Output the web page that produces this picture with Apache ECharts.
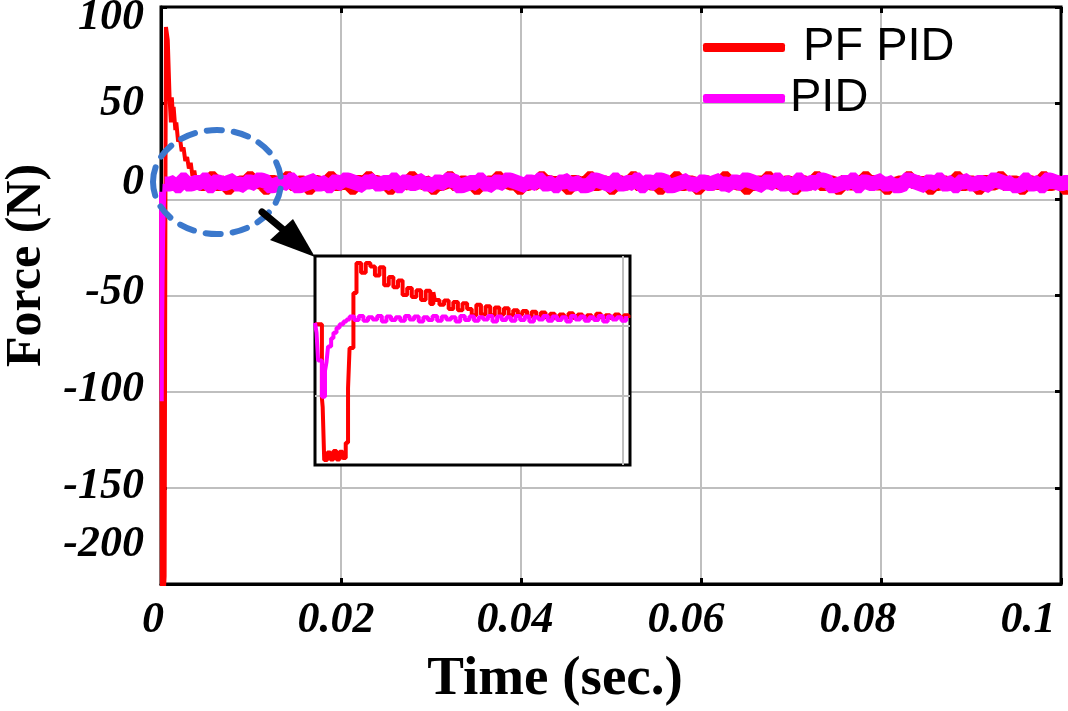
<!DOCTYPE html>
<html><head><meta charset="utf-8">
<script src="https://cdn.jsdelivr.net/npm/echarts@6/dist/echarts.min.js"></script>
<style>html,body{margin:0;padding:0;background:#fff}#c{width:1068px;height:711px}</style>
</head><body><div id="c"></div>
<script>
// ---------------- data ----------------
const seriesNames = ['PF PID', 'PID'];
const xTickLabels = ['0', '0.02', '0.04', '0.06', '0.08', '0.1'];
const yTickLabels = ['-200', '-150', '-100', '-50', '0', '50', '100'];

// main plot, PF PID transient (time s, force N)
const pfpidTransientTime = [0, 0.00006, 0.0001, 0.0002, 0.0003, 0.0004, 0.00045, 0.0005, 0.00055, 0.0007, 0.00075, 0.0009, 0.00095, 0.0011, 0.0012, 0.0013, 0.0014, 0.0016, 0.0017, 0.0019, 0.0021, 0.0023, 0.0025, 0.0027, 0.0029, 0.0031, 0.0033, 0.0035, 0.0037, 0.0039, 0.0042];
const pfpidTransientForce = [0, -110, -205, -196, -205, -196, -90, 20, 89.6, 89.6, 82.8, 82.8, 53, 40, 53, 45, 48, 36, 40, 30, 32, 25, 27, 20, 22, 16, 19, 12, 15, 9, 8];
// main plot, PF PID steady part (sampled every steadyStep from pfpidSteadyStart)
const pfpidSteadyStart = 0.0042;
const steadyStep = 0.0006;
const pfpidSteadyForce = [
  8,9,11,8,9,6,8,9,8,11, 9,8,6,9,8,9,11,8,9,8, 6,9,8,9,11,8,9,8,6,9, 8,11,9,8,9,6,8,9,8,11,
  9,8,9,6,8,9,11,8,9,8, 9,6,8,9,8,11,9,8,9,6, 8,9,8,11,9,8,9,8,6,9, 8,9,11,8,9,8,6,9,8,9,
  11,8,9,8,9,6,8,9,11,8, 9,8,6,9,8,9,8,11,9,8, 9,6,8,9,8,11,9,8,9,8, 6,9,8,9,11,8,9,8,6,9,
  8,9,8,11,9,8,9,6,8,9, 8,11,9,8,9,6,8,9,8,9, 11,8,9,8,6,9,8,9,11,8, 9,8,6,9,8,9,11,8,9,8,
  6,9,8,9,11,8,9,8,6,9];

// main plot, PID transient
const pidTransientTime = [0, 0.00004, 0.00008, 0.00012, 0.00018, 0.00024, 0.0003, 0.00036, 0.0004];
const pidTransientForce = [4, -40, -105, -70, -40, -18, -6, 4, 8];
const pidSteadyStart = 0.0004;
const pidSteadyForce = [
  8,9,7,10,8,9,8,10,7,9, 8,9,10,8,7,9,8,10,9,7, 8,9,8,10,7,8,9,10,8,9, 7,9,8,10,9,8,7,9,10,8,
  9,8,10,7,9,8,9,10,8,7, 9,8,10,9,7,8,9,8,10,8, 7,9,8,10,9,8,7,9,8,10, 8,9,7,9,10,8,9,7,8,10,
  9,8,7,10,8,9,8,10,7,9, 8,10,9,7,8,9,10,8,7,9, 8,9,10,8,7,9,8,10,9,8, 7,9,8,10,8,9,7,10,8,9,
  8,10,9,7,8,9,8,10,7,9, 8,9,10,8,9,7,8,10,9,8, 7,9,8,10,8,9,7,9,10,8, 9,8,7,10,9,8,9,7,8,10,
  8,9,7,10,9,8,9,8,10,7];

// inset (zoom of the first 0.0041 s)
const insetPfpidTime = [0, 0.00009, 0.0001, 0.00012, 0.00016, 0.0002, 0.00024, 0.00028, 0.00032, 0.00036, 0.0004, 0.00043, 0.00045, 0.0005, 0.00054,
  0.0006, 0.00066, 0.00072, 0.00078, 0.00084, 0.0009, 0.00096, 0.00102, 0.00108, 0.00114, 0.0012, 0.00126, 0.00132, 0.00138, 0.00144,
  0.0015, 0.00154, 0.00156, 0.00162, 0.00168, 0.00174, 0.0018, 0.00186, 0.00192, 0.00198, 0.00204, 0.0021, 0.00216, 0.00222, 0.00228,
  0.00234, 0.0024, 0.00246, 0.00252, 0.00258, 0.00264, 0.0027, 0.00276, 0.00282, 0.00288, 0.00294, 0.003, 0.00306, 0.00312, 0.00318,
  0.00324, 0.0033, 0.00336, 0.00342, 0.00348, 0.00354, 0.0036, 0.00366, 0.00372, 0.00378, 0.00384, 0.0039, 0.00396, 0.00402, 0.00408];
const insetPfpidForce = [2, -104, -117, -193, -182, -192, -180, -192, -181, -190, -168, -90, -32, 47, 90,
  76, 90, 85, 72, 84, 58, 70, 55, 65, 44, 54, 41, 51, 37, 50,
  31, 48, 37, 30, 36, 24, 34, 22, 32, 24, 15, 30, 16, 28, 15,
  26, 16, 25, 15, 22, 16, 21, 13, 20, 12, 19, 12, 17, 11, 16,
  12, 18, 11, 16, 12, 15, 11, 17, 12, 15, 11, 16, 12, 15, 11];
const insetPidTime = [0, 0.00002, 0.00004, 0.00009, 0.00013, 0.00015, 0.00017, 0.00021, 0.00024, 0.00028, 0.00032, 0.00037, 0.00041];
const insetPidForce = [4, -10, -50, -102, -65, -52, -30, -18, -10, -3, 2, 6, 9];
const insetPidNoiseStart = 0.00045;
const insetNoiseStep = 0.00006;
const insetPidNoise = [13,8,14,7,12,9,14,6,13,8, 12,7,14,9,13,6,12,8,14,7, 13,9,12,6,14,8,13,7,12,9,
  14,6,13,8,12,7,14,8,13,6, 12,9,14,7,13,8,12,6,14,9, 13,7,12,8,14,6,13,9,12,7, 14];

// ---------------- build ----------------
const pairs = (t, v) => t.map((x, i) => [x, v[i]]);
const sampled = (start, step, v) => v.map((y, i) => [start + i * step, y]);

const RED = '#ff0000', MAG = '#ff00ff';
const serif = 'Liberation Serif, Times New Roman, serif';
const xShift = [16, 10, 12, 30, 46, 66];          // label nudges
const yShift = [[0,0,78,0],[0,0,2,0],[0,0,4,0],[0,0,6,0],[0,0,34,0],[0,0,0,0],[22,0,0,0]];
const xRich = {}, yRich = {};
xShift.forEach((p, i) => { xRich['x' + i] = {fontFamily: serif, fontStyle: 'italic', fontWeight: 'bold', fontSize: 44, color: '#000', padding: [0, p, 0, 0]}; });
yShift.forEach((p, i) => { yRich['y' + i] = {fontFamily: serif, fontStyle: 'italic', fontWeight: 'bold', fontSize: 44, color: '#000', padding: p}; });

const black3 = {color: '#000', width: 3};
const tickIn = {show: true, inside: true, length: 6, lineStyle: black3};
const gridLine = {show: true, showMinLine: false, showMaxLine: false, lineStyle: {color: '#bfbfbf', width: 2}};

const chart = echarts.init(document.getElementById('c'), null, {renderer: 'canvas'});
chart.setOption({
  animation: false,
  backgroundColor: '#fff',
  grid: [
    {left: 161, right: 7, top: 7, bottom: 127, outerBoundsMode: 'none', containLabel: false,
     show: true, borderColor: '#000', borderWidth: 3, backgroundColor: 'transparent'},
    {left: 315, top: 256, width: 315, height: 209, outerBoundsMode: 'none', containLabel: false,
     show: true, borderColor: '#000', borderWidth: 3, backgroundColor: '#fff', z: 4}
  ],
  legend: {
    data: seriesNames, orient: 'vertical', left: 698, top: 19, itemWidth: 82, itemHeight: 9, itemGap: 4,
    icon: 'roundRect',
    formatter: n => n === 'PF PID' ? ' ' + n : n,
    textStyle: {fontFamily: 'Liberation Sans, Arial, sans-serif', fontSize: 47, color: '#000'}
  },
  xAxis: [
    {type: 'value', gridIndex: 0, min: 0, max: 0.1, interval: 0.02,
     axisLine: {show: true, onZero: false, lineStyle: black3}, axisTick: tickIn, splitLine: gridLine,
     axisLabel: {margin: 15, formatter: (v, i) => '{x' + i + '|' + (xTickLabels[i] ?? v) + '}', rich: xRich},
     name: 'Time (sec.)', nameLocation: 'middle', nameGap: 68,
     nameTextStyle: {fontFamily: serif, fontWeight: 'bold', fontSize: 55, color: '#000', padding: [0, 112, 0, 0]}},
    {type: 'value', gridIndex: 0, position: 'top', min: 0, max: 0.1, interval: 0.02,
     axisLine: {show: false, onZero: false}, axisTick: tickIn, splitLine: {show: false}, axisLabel: {show: false}},
    {type: 'value', gridIndex: 1, min: 0, max: 0.0041, interval: 0.004, z: 5,
     axisLine: {show: false, onZero: false}, axisTick: {show: false}, axisLabel: {show: false}, splitLine: gridLine}
  ],
  yAxis: [
    {type: 'value', gridIndex: 0, min: -200, max: 100, interval: 50,
     axisLine: {show: true, onZero: false, lineStyle: black3}, axisTick: tickIn, splitLine: gridLine,
     axisLabel: {margin: 17, formatter: (v, i) => '{y' + i + '|' + (yTickLabels[i] ?? v) + '}', rich: yRich},
     name: 'Force (N)', nameLocation: 'middle', nameGap: 92,
     nameTextStyle: {fontFamily: serif, fontWeight: 'bold', fontSize: 50, color: '#000', padding: [0, 0, 0, 60]}},
    {type: 'value', gridIndex: 0, position: 'right', min: -200, max: 100, interval: 50,
     axisLine: {show: false, onZero: false}, axisTick: tickIn, splitLine: {show: false}, axisLabel: {show: false}},
    {type: 'value', gridIndex: 1, min: -200, max: 100, interval: 100, z: 5,
     axisLine: {show: false, onZero: false}, axisTick: {show: false}, axisLabel: {show: false}, splitLine: gridLine}
  ],
  series: [
    {name: 'PF PID', type: 'line', xAxisIndex: 0, yAxisIndex: 0, step: 'end', showSymbol: false, z: 2,
     data: pairs(pfpidTransientTime, pfpidTransientForce),
     lineStyle: {color: RED, width: 4}, itemStyle: {color: RED}},
    {name: 'PF PID', type: 'line', xAxisIndex: 0, yAxisIndex: 0, step: 'end', showSymbol: false, z: 2,
     data: sampled(pfpidSteadyStart, steadyStep, pfpidSteadyForce),
     lineStyle: {color: RED, width: 14, cap: 'butt', join: 'bevel'}, itemStyle: {color: RED}},
    {name: 'PID', type: 'line', xAxisIndex: 0, yAxisIndex: 0, step: 'end', showSymbol: false, z: 3,
     data: pairs(pidTransientTime, pidTransientForce),
     lineStyle: {color: MAG, width: 4}, itemStyle: {color: MAG}},
    {name: 'PID', type: 'line', xAxisIndex: 0, yAxisIndex: 0, step: 'end', showSymbol: false, z: 3,
     data: sampled(pidSteadyStart, steadyStep, pidSteadyForce),
     lineStyle: {color: MAG, width: 15, cap: 'butt', join: 'bevel'}, itemStyle: {color: MAG}},
    {name: 'PF PID', type: 'line', xAxisIndex: 2, yAxisIndex: 2, step: 'end', showSymbol: false, z: 6,
     data: pairs(insetPfpidTime, insetPfpidForce),
     lineStyle: {color: RED, width: 4}, itemStyle: {color: RED}},
    {name: 'PID', type: 'line', xAxisIndex: 2, yAxisIndex: 2, step: 'end', showSymbol: false, z: 7,
     data: pairs(insetPidTime, insetPidForce).concat(sampled(insetPidNoiseStart, insetNoiseStep, insetPidNoise)),
     lineStyle: {color: MAG, width: 4}, itemStyle: {color: MAG}}
  ],
  graphic: [
    {type: 'ellipse', z: 100, shape: {cx: 217, cy: 182, rx: 64, ry: 52},
     style: {fill: 'none', stroke: '#3b78cc', lineWidth: 6, lineDash: [15, 12], lineCap: 'round'}},
    {type: 'line', z: 100, shape: {x1: 262, y1: 212, x2: 292, y2: 237},
     style: {stroke: '#000', lineWidth: 7, lineCap: 'round'}},
    {type: 'polygon', z: 100, shape: {points: [[315, 257], [270, 240], [293, 219]]},
     style: {fill: '#000'}}
  ]
});
</script></body></html>
